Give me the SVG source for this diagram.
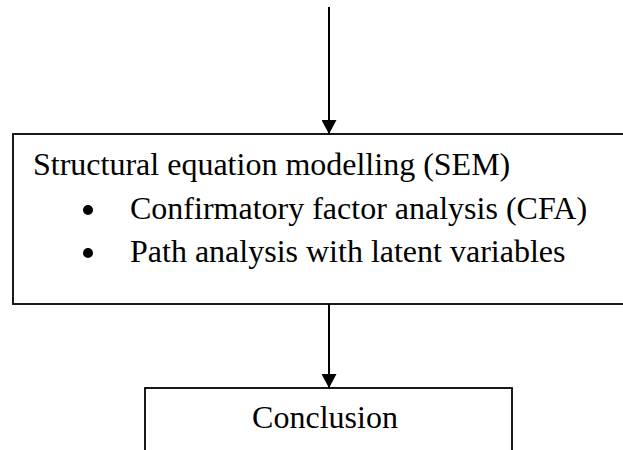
<svg xmlns="http://www.w3.org/2000/svg" width="623" height="450" viewBox="0 0 623 450">
<defs>
<style>
.box{fill:#fff;stroke:#000;stroke-width:1.8}
.line{stroke:#000;stroke-width:2;fill:none}
.t{font-family:"Liberation Serif","Times New Roman",serif;font-size:32px;fill:#000}
</style>
<marker id="ah" viewBox="0 0 14 15" refX="14" refY="7.5" markerWidth="14" markerHeight="15" markerUnits="userSpaceOnUse" orient="auto">
<path d="M0,0 L14,7.5 L0,15 Z" fill="#000"/>
</marker>
</defs>
<rect width="623" height="450" fill="#fff"/>
<g id="sem">
<rect class="box" x="13" y="134" width="640" height="170"/>
<text class="t" x="33" y="175">Structural equation modelling (SEM)</text>
<circle cx="88" cy="210" r="5"/>
<text class="t" x="130" y="219">Confirmatory factor analysis (CFA)</text>
<circle cx="88" cy="253" r="5"/>
<text class="t" x="130" y="262">Path analysis with latent variables</text>
</g>
<g id="conclusion">
<rect class="box" x="145" y="388" width="367" height="80"/>
<text class="t" x="325" y="428" text-anchor="middle">Conclusion</text>
</g>
<g id="connectors">
<line class="line" x1="329" y1="7" x2="329" y2="134" marker-end="url(#ah)"/>
<line class="line" x1="329" y1="304" x2="329" y2="388" marker-end="url(#ah)"/>
</g>
</svg>
